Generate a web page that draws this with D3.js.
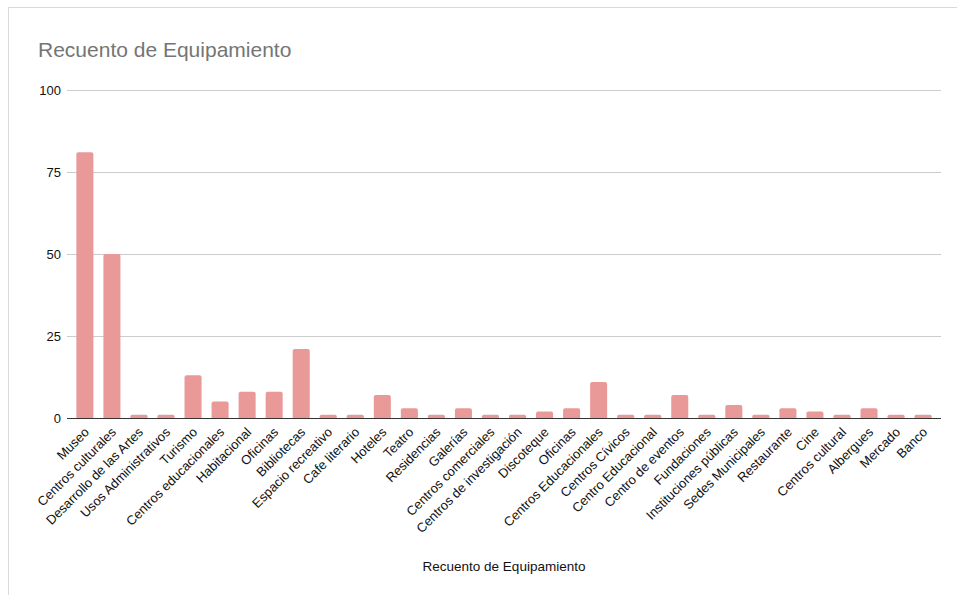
<!DOCTYPE html>
<html>
<head>
<meta charset="utf-8">
<script src="https://cdn.jsdelivr.net/npm/d3@7"></script>
<style>
  body { margin: 0; background: #fff; }
  svg { display: block; font-family: "Liberation Sans", Arial, sans-serif; }
</style>
</head>
<body>
<svg id="chart"></svg>
<script>
// categories and counts
var categories = [
  "Museo", "Centros culturales", "Desarrollo de las Artes", "Usos Administrativos",
  "Turismo", "Centros educacionales", "Habitacional", "Oficinas", "Bibliotecas",
  "Espacio recreativo", "Cafe literario", "Hoteles", "Teatro", "Residencias",
  "Galerías", "Centros comerciales", "Centros de investigación", "Discoteque",
  "Oficinas ", "Centros Educacionales", "Centros Cívicos", "Centro Educacional",
  "Centro de eventos", "Fundaciones", "Instituciones públicas", "Sedes Municipales",
  "Restaurante", "Cine", "Centros cultural", "Albergues", "Mercado", "Banco"
];
var counts = [
  81, 50, 1, 1,
  13, 5, 8, 8, 21,
  1, 1, 7, 3, 1,
  3, 1, 1, 2,
  3, 11, 1, 1,
  7, 1, 4, 1,
  3, 2, 1, 3, 1, 1
];
var yTicks = [0, 25, 50, 75, 100];

var title = "Recuento de Equipamiento";
var xTitle = "Recuento de Equipamiento";

var w = 957, h = 595;

var svg = d3.select("#chart").attr("width", w).attr("height", h);

// frame (left + top edges visible)
svg.append("rect")
  .attr("x", 8.5).attr("y", 7.5)
  .attr("width", w + 20).attr("height", h + 20)
  .attr("fill", "none")
  .attr("stroke", "#d9d9d9");

svg.append("text")
  .attr("x", 38).attr("y", 57)
  .attr("font-size", 21)
  .attr("fill", "#757575")
  .text(title);

var x = d3.scaleBand()
  .domain(d3.range(categories.length))
  .range([71.5, 936.5])
  .paddingInner(0.37)
  .paddingOuter(0.18);

var y = d3.scaleLinear()
  .domain([0, 100])
  .range([418, 90]);

// gridlines
svg.append("g")
  .selectAll("line")
  .data(yTicks.filter(d => d !== 0))
  .join("line")
  .attr("x1", 67).attr("x2", 941)
  .attr("y1", d => Math.round(y(d)) + 0.5)
  .attr("y2", d => Math.round(y(d)) + 0.5)
  .attr("stroke", "#cccccc");

// y labels
svg.append("g")
  .selectAll("text")
  .data(yTicks)
  .join("text")
  .attr("x", 61)
  .attr("y", d => y(d) + 4.5)
  .attr("text-anchor", "end")
  .attr("font-size", 13)
  .attr("fill", "#111")
  .text(d => d);

// bars with slightly rounded tops
svg.append("g")
  .selectAll("path")
  .data(counts)
  .join("path")
  .attr("fill", "#ea9999")
  .attr("d", function (d, i) {
    var x0 = x(i), x1 = x(i) + x.bandwidth();
    var y0 = y(0), y1 = y(d), r = Math.min(2, (y0 - y1) / 2);
    return "M" + x0 + "," + y0 + "V" + (y1 + r) +
      "Q" + x0 + "," + y1 + " " + (x0 + r) + "," + y1 +
      "H" + (x1 - r) + "Q" + x1 + "," + y1 + " " + x1 + "," + (y1 + r) +
      "V" + y0 + "Z";
  });

// baseline
svg.append("line")
  .attr("x1", 67).attr("x2", 941)
  .attr("y1", y(0) + 0.5).attr("y2", y(0) + 0.5)
  .attr("stroke", "#333")
  .attr("stroke-width", 1.2);

// x labels, rotated
svg.append("g")
  .selectAll("text")
  .data(categories)
  .join("text")
  .attr("transform", (d, i) => "translate(" + (x(i) + x.bandwidth() / 2 + 5) + "," + (y(0) + 15) + ") rotate(-45)")
  .attr("text-anchor", "end")
  .attr("font-size", 13)
  .attr("fill", "#111")
  .text(d => d.trim());

svg.append("text")
  .attr("x", 504).attr("y", 571)
  .attr("text-anchor", "middle")
  .attr("font-size", 13.5)
  .attr("fill", "#111")
  .text(xTitle);
</script>
</body>
</html>
